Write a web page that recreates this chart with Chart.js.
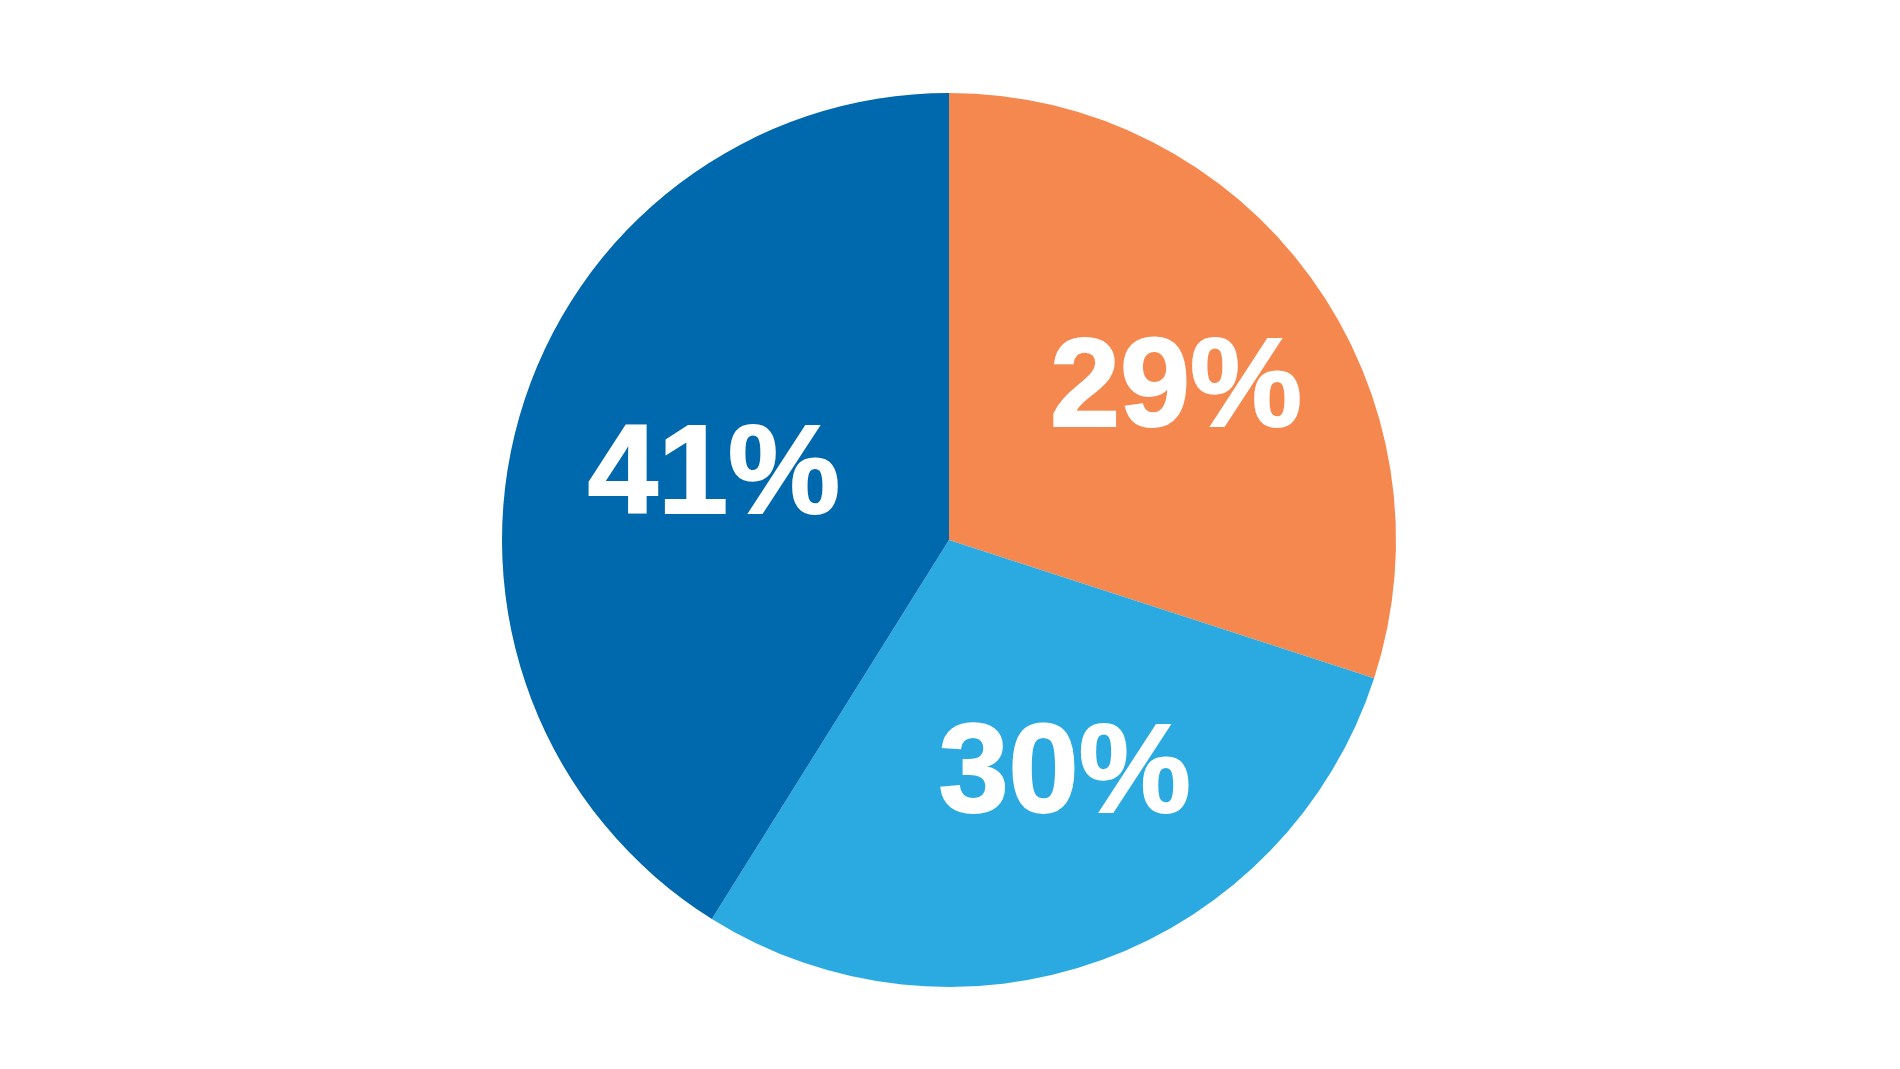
<!DOCTYPE html>
<html>
<head>
<meta charset="utf-8">
<title>Pie</title>
<script src="https://cdn.jsdelivr.net/npm/chart.js@4/dist/chart.umd.min.js"></script>
<style>
  html, body { margin: 0; padding: 0; background: #fff; }
  canvas { display: block; }
</style>
</head>
<body>
<canvas id="pie" width="1900" height="1069"></canvas>
<script>
// slice data, clockwise from 12 o'clock
const categories = ['Orange', 'Light blue', 'Dark blue'];
const shares = [30, 28.9, 41.1];
const percentLabels = ['29%', '30%', '41%'];
const sliceColors = ['#f5884f', '#2baae1', '#0069ad'];

// label placement per slice: fraction of radius, angle nudge (deg)
const labelPlace = [
    { r: 0.62, da: 1 },
    { r: 0.57, da: -7 },
    { r: 0.55, da: 1 }
];
const fontSize = 126;

const sliceLabels = {
    id: 'sliceLabels',
    afterDatasetsDraw(chart){
        const ctx = chart.ctx;
        const arcs = chart.getDatasetMeta(0).data;
        ctx.save();
        ctx.fillStyle = '#fff';
        ctx.strokeStyle = '#fff';
        ctx.lineWidth = 2;
        ctx.font = 'bold ' + fontSize + 'px "Liberation Sans", Arial, sans-serif';
        ctx.textAlign = 'center';
        ctx.textBaseline = 'alphabetic';
        arcs.forEach((arc, i)=>{
            const p = labelPlace[i];
            const mid = (arc.startAngle + arc.endAngle) / 2 + p.da * Math.PI / 180;
            const dist = arc.outerRadius * p.r;
            const x = arc.x + Math.cos(mid) * dist;
            const y = arc.y + Math.sin(mid) * dist + fontSize * 0.716 / 2;
            ctx.fillText(percentLabels[i], x, y);
            ctx.strokeText(percentLabels[i], x, y);
        });
        ctx.restore();
    }
};

new Chart(document.getElementById('pie'), {
    type: 'pie',
    data: {
        labels: categories,
        datasets: [{ data: shares, backgroundColor: sliceColors, borderWidth: 0 }]
    },
    options: {
        responsive: false,
        animation: false,
        devicePixelRatio: 1,
        layout: { padding: { top: 93, bottom: 82, left: 0, right: 2 } },
        plugins: { legend: { display: false }, tooltip: { enabled: false } }
    },
    plugins: [sliceLabels]
});
</script>
</body>
</html>
